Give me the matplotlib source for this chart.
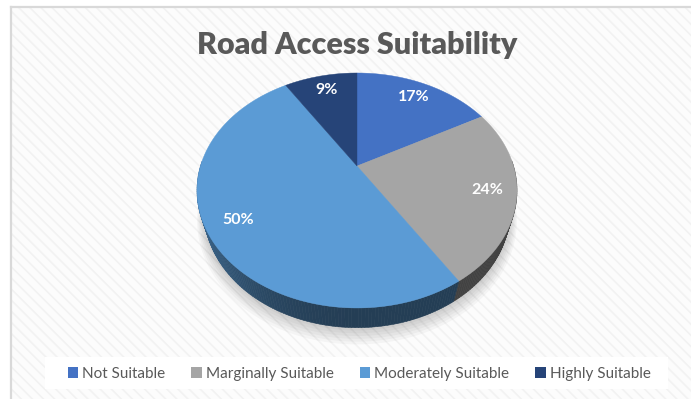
import numpy as np
import matplotlib.pyplot as plt
from matplotlib.patches import Polygon, Rectangle
from matplotlib.colors import to_rgb

title = 'Road Access Suitability'
categories = ['Not Suitable', 'Marginally Suitable', 'Moderately Suitable', 'Highly Suitable']
shares = [17, 24, 50, 9]
colors = ['#4472C4', '#A5A5A5', '#5B9BD5', '#264478']

# canvas in pixels, pie seen from above with a little perspective
W, H = 691, 399
ELEV = np.radians(45.9)
DIST = 3.34
THICK = 0.21
RADIUS_PX = 156.5
CX, CY = 357, H - 166


def project(x, y, z):
    v = y * np.sin(ELEV) + z * np.cos(ELEV)
    w = y * np.cos(ELEV) - z * np.sin(ELEV)
    k = DIST / (DIST + w)
    return CX + RADIUS_PX * x * k, CY + RADIUS_PX * v * k


def rim(a0, a1, z, r=1.0, step=1.0):
    n = max(2, int(abs(a1 - a0) / step) + 1)
    a = np.radians(np.linspace(a0, a1, n))
    px, py = project(r * np.cos(a), r * np.sin(a), np.full_like(a, z))
    return np.column_stack([px, py])


def shade(color, f):
    r, g, b = to_rgb(color)
    return (r * f, g * f, b * f)


fig = plt.figure(figsize=(W / 100, H / 100), dpi=100)
ax = fig.add_axes([0, 0, 1, 1])
ax.set_xlim(0, W)
ax.set_ylim(0, H)
ax.axis('off')

# chart area with faint diagonal stripes
plt.rcParams['hatch.linewidth'] = 1.2
ax.add_patch(Rectangle((11, 0), W - 11, 392, facecolor='#fcfcfc', edgecolor='#f2f2f2',
                       linewidth=0, hatch='\\\\\\', zorder=0))
ax.plot([11, 11], [0, 392], color='#d9d9d9', lw=1.6, zorder=1)
ax.plot([11, W], [392, 392], color='#d9d9d9', lw=1.6, zorder=1)

# soft shadow under the pie
for s in range(7):
    pts = rim(0, 360, -THICK - 0.012 * s, r=1.0 + 0.01 * s, step=2)
    ax.add_patch(Polygon(pts, closed=True, facecolor='black', edgecolor='none',
                         alpha=0.03, zorder=2))

fracs = np.array(shares) / sum(shares)
bounds = 90 - 360 * np.concatenate([[0], np.cumsum(fracs)])

# side wall, far pieces first
quads = []
for i, c in enumerate(colors):
    a0, a1 = bounds[i], bounds[i + 1]
    edges = np.arange(a0, a1, -1.0)
    edges = np.append(edges, a1)
    for p, q in zip(edges[:-1], edges[1:]):
        mid = np.radians((p + q) / 2)
        if np.sin(mid) > 0.05:
            continue
        top = rim(p, q, 0, step=5)
        bot = rim(q, p, -THICK, step=5)
        f = 0.40 + 0.30 * max(0.0, -np.cos(mid)) ** 2
        quads.append((np.sin(mid), np.vstack([top, bot]), shade(c, f)))
quads.sort(key=lambda t: -t[0])
for _, pts, col in quads:
    ax.add_patch(Polygon(pts, closed=True, facecolor=col, edgecolor=col, lw=0.4, zorder=3))

# top faces
for i, c in enumerate(colors):
    arc = rim(bounds[i], bounds[i + 1], 0, step=0.5)
    centre = np.array(project(0.0, 0.0, 0.0))
    pts = np.vstack([centre, arc])
    ax.add_patch(Polygon(pts, closed=True, facecolor=c, edgecolor=c, lw=0.3, zorder=4))

# percentage labels
for i, v in enumerate(shares):
    mid = np.radians((bounds[i] + bounds[i + 1]) / 2)
    lx, ly = project(0.82 * np.cos(mid), 0.82 * np.sin(mid), 0.0)
    ax.text(lx, ly, f'{v}%', color='white', fontsize=11.5, fontweight='bold',
            family='Lato', ha='center', va='center', zorder=5)

ax.text(357, 345, title, fontsize=22, fontweight='heavy', family='Lato',
        color='#595959', ha='center', va='baseline', zorder=5)

# legend strip
ax.add_patch(Rectangle((45, 10), 623, 32, facecolor='white', edgecolor='none', zorder=1))
handles = [Rectangle((0, 0), 1, 1, facecolor=c, edgecolor='none') for c in colors]
ax.legend(handles, categories, loc='center', bbox_to_anchor=(359, 25),
          bbox_transform=ax.transData, ncol=4, frameon=False,
          handlelength=0.7, handleheight=0.7, handletextpad=0.25, columnspacing=1.7,
          prop={'family': 'Lato', 'size': 11}, labelcolor='#595959')

fig.savefig('out.png', dpi=100)
